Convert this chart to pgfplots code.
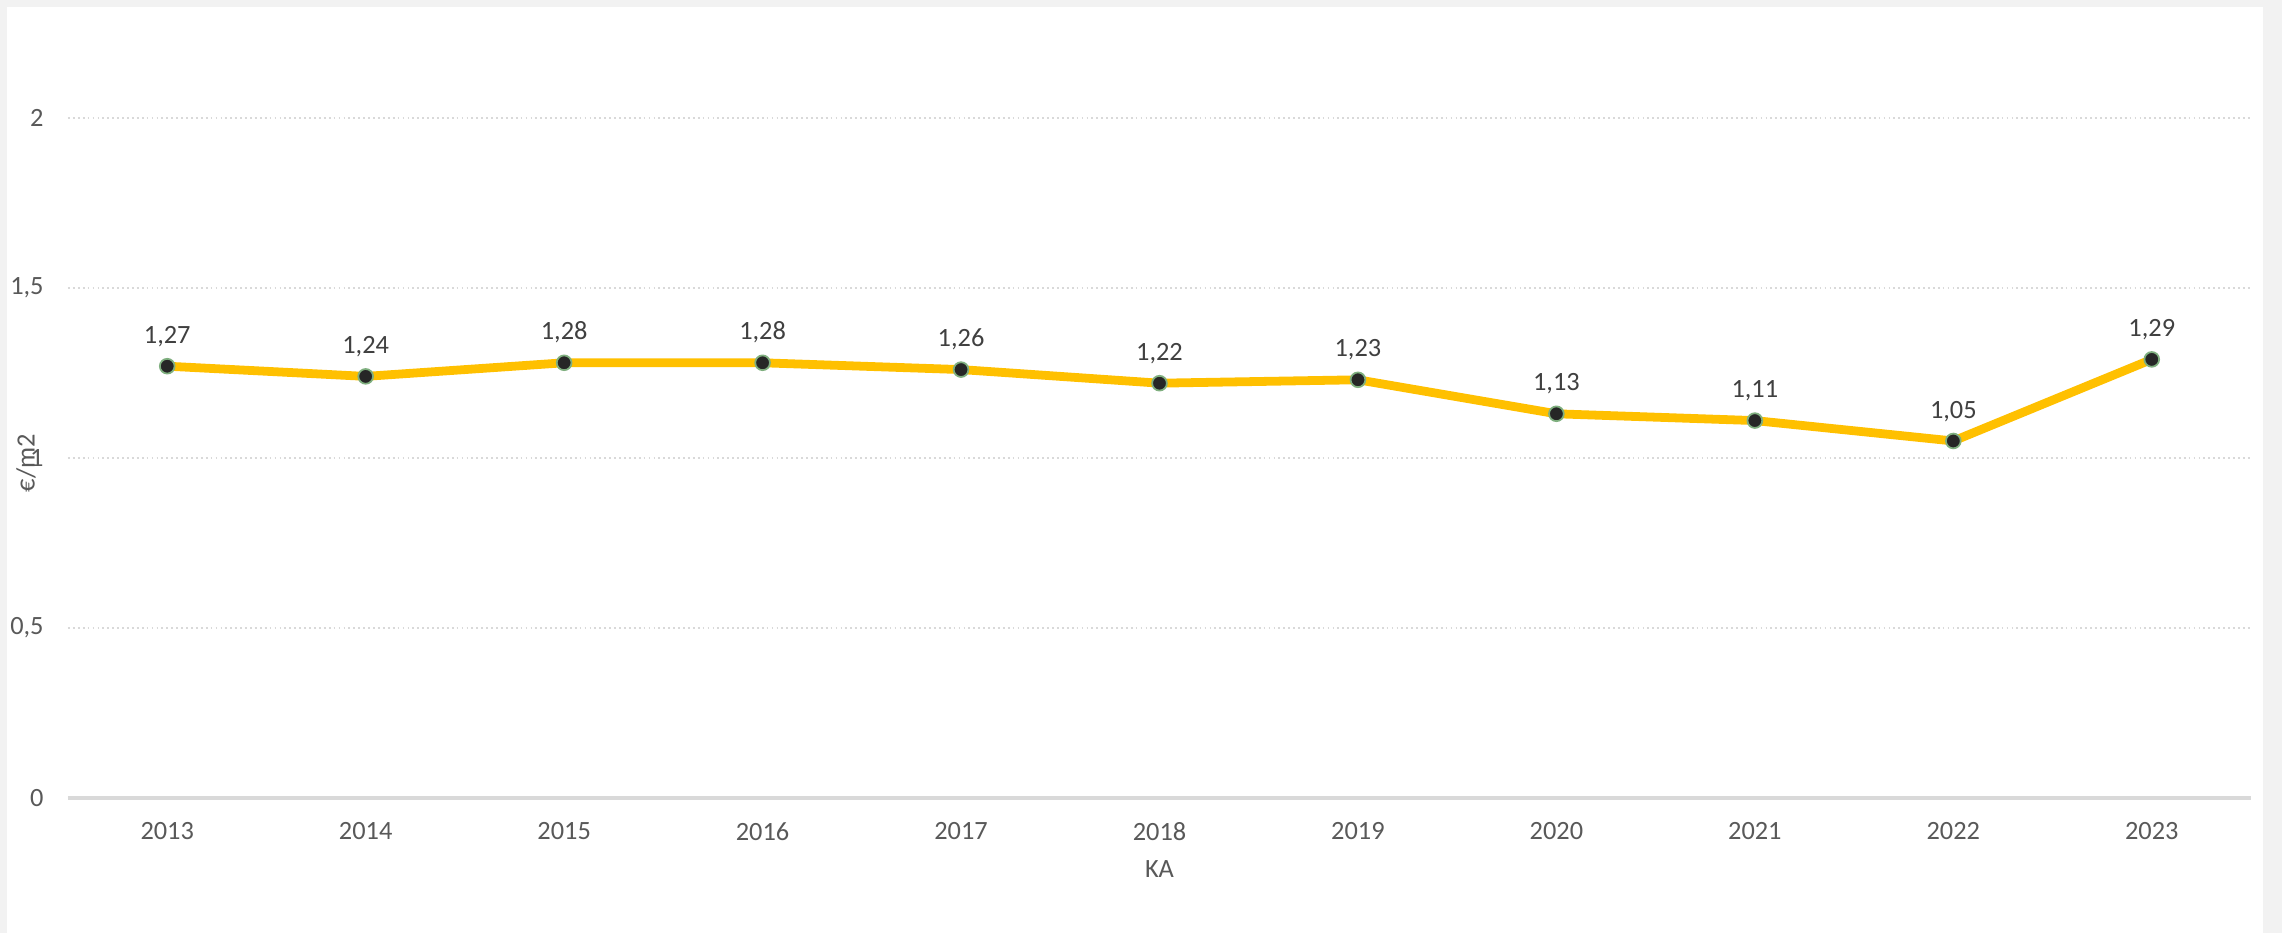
\documentclass[border=0pt]{standalone}
\usepackage{pgfplots}
\pgfplotsset{compat=1.18}
\usepackage{fontspec}
\setmainfont{Carlito}
\definecolor{gold}{HTML}{FFC000}
\definecolor{ticktxt}{HTML}{595959}
\definecolor{lbltxt}{HTML}{404040}
\definecolor{gridc}{HTML}{D9D9D9}
\definecolor{frame}{HTML}{F2F2F2}
\definecolor{mkedge}{HTML}{7FAF7F}
\begin{document}
\begin{tikzpicture}
  \path[use as bounding box] (0,0) rectangle (228.2mm,93.3mm);
  \fill[frame] (0,0) rectangle (228.2mm,93.3mm);
  \fill[white] (0.7mm,0) rectangle (226.3mm,92.6mm);
  \begin{axis}[
    at={(6.8mm,13.5mm)}, anchor=south west,
    scale only axis,
    width=218.3mm, height=78.2mm,
    xmin=-0.5, xmax=10.5,
    ymin=0, ymax=2.3,
    xtick={0,...,10},
    xticklabels={2013,2014,2015,2016,2017,2018,2019,2020,2021,2022,2023},
    ytick={0,0.5,1,1.5,2},
    axis line style={draw=none},
    major tick length=0pt,
    ymajorgrids,
    grid style={gridc, dash pattern=on 0.5pt off 0.9pt, line width=0.6pt},
    tick label style={font=\fontsize{7.5}{9}\selectfont, text=ticktxt},
    /pgf/number format/assume math mode=true,
    /pgf/number format/use comma,
    yticklabel style={xshift=-1.2mm},
    xticklabel style={yshift=-1.2mm},
    xlabel={KA},
    xlabel style={font=\fontsize{7.5}{9}\selectfont, text=ticktxt, at={(rel axis cs:0.5,0)}, anchor=center, yshift=-7.1mm},
    ylabel={€/m2},
    ylabel style={font=\fontsize{7.5}{9}\selectfont, text=ticktxt, at={(rel axis cs:-0.0192,0.428)}, anchor=center},
    clip=false,
  ]
  \draw[gridc, line width=0.9pt] (axis cs:-0.5,0) -- (axis cs:10.5,0);
  \addplot[
    gold, line width=2.5pt,
    mark=*, mark size=2.1pt,
    mark options={fill=black!85, draw=mkedge, line width=0.5pt},
    nodes near coords={\pgfmathprintnumber[fixed,fixed zerofill,precision=2,use comma]{\pgfplotspointmeta}},
    every node near coord/.append style={font=\fontsize{7.5}{9}\selectfont, text=lbltxt, anchor=south, yshift=0.7mm},
  ] coordinates {
    (0,1.27) (1,1.24) (2,1.28) (3,1.28) (4,1.26) (5,1.22)
    (6,1.23) (7,1.13) (8,1.11) (9,1.05) (10,1.29)
  };
  \end{axis}
\end{tikzpicture}
\end{document}
